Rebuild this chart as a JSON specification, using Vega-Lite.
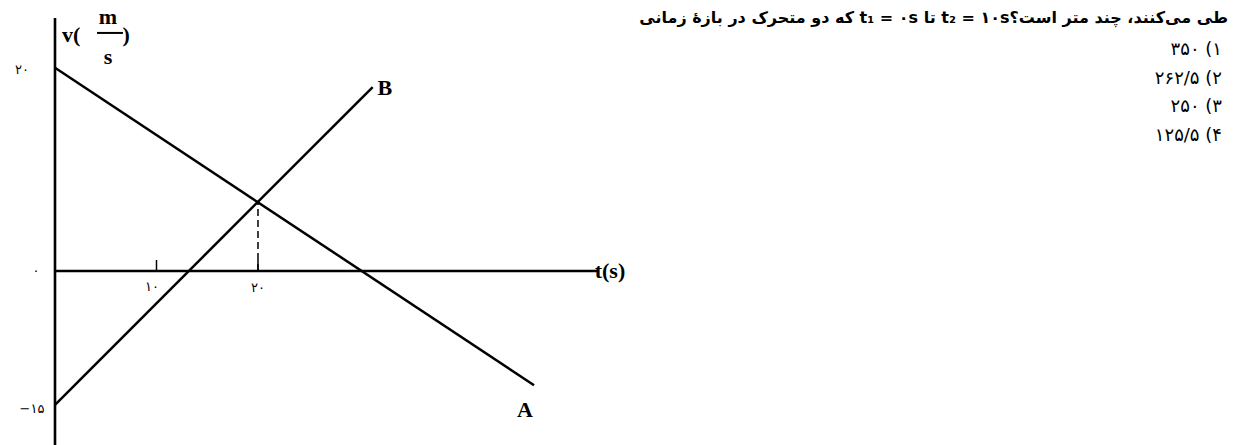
{
  "$schema": "https://vega.github.io/schema/vega-lite/v6.json",
  "autosize": {"type": "none"},
  "width": 544,
  "height": 427,
  "padding": {"left": 55, "top": 18, "right": 648, "bottom": 0},
  "background": "white",
  "config": {"view": {"stroke": null}},
  "datasets": {
    "origin": [{"t": 0, "v": 0}],
    "lines": [
      {"line": "A", "t": 0, "v": 20},
      {"line": "A", "t": 47.2, "v": -12.8},
      {"line": "B", "t": 0, "v": -15},
      {"line": "B", "t": 31.3, "v": 18.1}
    ],
    "ticks": [{"t": 10, "v0": 0, "v1": 1.08}, {"t": 20, "v0": 0, "v1": 1.08}],
    "dash": [{"t": 20, "v0": 0, "v1": 6.7}],
    "bar": [{"t0": 4.14, "t1": 6.7, "v": 23.43}],
    "latin": [
      {"label": "A", "t": 46.3, "v": -15.58, "align": "center"},
      {"label": "B", "t": 32.5, "v": 18.0, "align": "left"},
      {"label": "t(s)", "t": 54.68, "v": 0, "align": "left"},
      {"label": "v(", "t": 1.6, "v": 23.2, "align": "left"},
      {"label": "m", "t": 5.22, "v": 25.0, "align": "center"},
      {"label": "s", "t": 5.22, "v": 21.06, "align": "center"},
      {"label": ")", "t": 7.0, "v": 23.2, "align": "center"}
    ],
    "ticklabels": [
      {"label": "۲۰", "t": -3.25, "v": 19.8},
      {"label": "۰", "t": -1.87, "v": 0},
      {"label": "−۱۵", "t": -2.27, "v": -15.47},
      {"label": "۱۰", "t": 9.56, "v": -1.79},
      {"label": "۲۰", "t": 20.0, "v": -1.9}
    ],
    "question": [
      {"label": "که دو متحرک در بازهٔ زمانی  t₁ = ۰s تا t₂ = ۱۰sطی می\u200cکنند، چند متر است؟", "t": 115.57, "v": 24.9}
    ],
    "options": [
      {"label": "۳۵۰  (۱", "t": 114.98, "v": 21.75},
      {"label": "۲۶۲/۵  (۲", "t": 114.98, "v": 18.9},
      {"label": "۲۵۰  (۳", "t": 114.98, "v": 16.14},
      {"label": "۱۲۵/۵  (۴", "t": 114.98, "v": 13.29}
    ]
  },
  "layer": [
    {
      "data": {"name": "origin"},
      "mark": {"type": "rule", "color": "black", "strokeWidth": 2.6},
      "encoding": {
        "x": {"field": "t", "type": "quantitative", "scale": {"domain": [0, 53.6], "nice": false, "zero": false}, "axis": null}
      }
    },
    {
      "data": {"name": "origin"},
      "mark": {"type": "rule", "color": "black", "strokeWidth": 2.6},
      "encoding": {
        "y": {"field": "v", "type": "quantitative", "scale": {"domain": [-19.5, 0, 24.9], "range": [427, 253, 0], "nice": false, "zero": false}, "axis": null}
      }
    },
    {
      "data": {"name": "ticks"},
      "mark": {"type": "rule", "color": "black", "strokeWidth": 1.5},
      "encoding": {
        "x": {"field": "t", "type": "quantitative", "axis": null},
        "y": {"field": "v0", "type": "quantitative", "axis": null},
        "y2": {"field": "v1"}
      }
    },
    {
      "data": {"name": "dash"},
      "mark": {"type": "rule", "color": "black", "strokeWidth": 1.5, "strokeDash": [7, 4]},
      "encoding": {
        "x": {"field": "t", "type": "quantitative", "axis": null},
        "y": {"field": "v0", "type": "quantitative", "axis": null},
        "y2": {"field": "v1"}
      }
    },
    {
      "data": {"name": "lines"},
      "mark": {"type": "line", "color": "black", "strokeWidth": 2.5},
      "encoding": {
        "x": {"field": "t", "type": "quantitative", "axis": null},
        "y": {"field": "v", "type": "quantitative", "axis": null},
        "detail": {"field": "line"}
      }
    },
    {
      "data": {"name": "bar"},
      "mark": {"type": "rule", "color": "black", "strokeWidth": 2},
      "encoding": {
        "x": {"field": "t0", "type": "quantitative", "axis": null},
        "x2": {"field": "t1"},
        "y": {"field": "v", "type": "quantitative", "axis": null}
      }
    },
    {
      "data": {"name": "latin"},
      "mark": {"type": "text", "font": "Liberation Serif", "fontWeight": "bold", "fontSize": 22, "baseline": "middle", "color": "black"},
      "encoding": {
        "x": {"field": "t", "type": "quantitative", "axis": null},
        "y": {"field": "v", "type": "quantitative", "axis": null},
        "text": {"field": "label"},
        "align": {"field": "align", "type": "nominal", "scale": null}
      }
    },
    {
      "data": {"name": "ticklabels"},
      "mark": {"type": "text", "font": "DejaVu Sans", "fontSize": 13, "baseline": "middle", "align": "center", "color": "black"},
      "encoding": {
        "x": {"field": "t", "type": "quantitative", "axis": null},
        "y": {"field": "v", "type": "quantitative", "axis": null},
        "text": {"field": "label"}
      }
    },
    {
      "data": {"name": "question"},
      "mark": {"type": "text", "font": "DejaVu Sans", "fontWeight": "bold", "fontSize": 16, "baseline": "middle", "align": "right", "color": "black"},
      "encoding": {
        "x": {"field": "t", "type": "quantitative", "axis": null},
        "y": {"field": "v", "type": "quantitative", "axis": null},
        "text": {"field": "label"}
      }
    },
    {
      "data": {"name": "options"},
      "mark": {"type": "text", "font": "DejaVu Sans", "fontSize": 18, "baseline": "middle", "align": "right", "color": "black"},
      "encoding": {
        "x": {"field": "t", "type": "quantitative", "axis": null},
        "y": {"field": "v", "type": "quantitative", "axis": null},
        "text": {"field": "label"}
      }
    }
  ]
}
